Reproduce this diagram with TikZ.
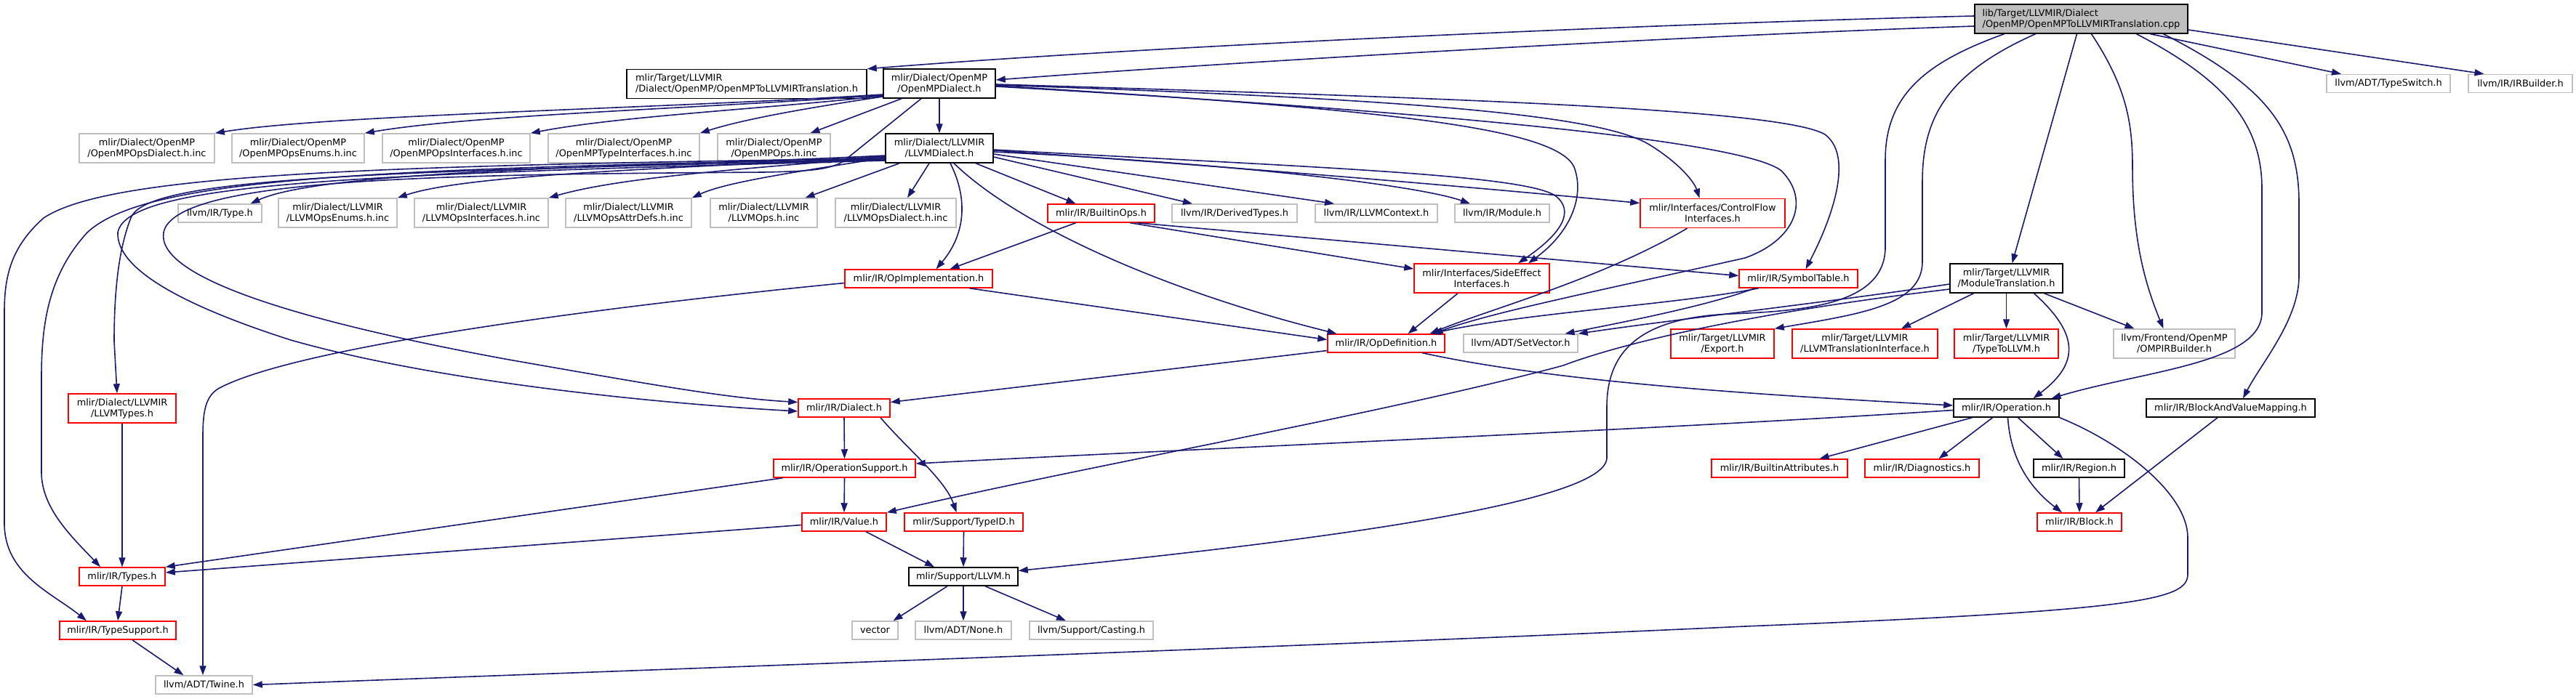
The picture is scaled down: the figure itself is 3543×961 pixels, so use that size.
\documentclass[tikz,border=0pt]{standalone}
\usepackage{fontspec}
\setmainfont{DejaVu Sans}
\usetikzlibrary{arrows.meta}
\definecolor{edgeblue}{HTML}{191970}
\definecolor{boxgray}{HTML}{BFBFBF}
\tikzset{
  nb/.style={line width=1.5pt, inner sep=0pt, align=center, font=\fontsize{12.9pt}{15pt}\selectfont, minimum height=25pt},
  two/.style={minimum height=40pt},
  blackbox/.style={nb, draw=black},
  graybox/.style={nb, draw=boxgray},
  redbox/.style={nb, draw=red},
  mainbox/.style={nb, draw=black, fill=boxgray},
  edge/.style={draw=edgeblue, line width=1.6pt, -{Triangle[length=13pt,width=9pt]}}
}
\begin{document}
\begin{tikzpicture}[x=1pt,y=-1pt]
\useasboundingbox (0,0) rectangle (3543,961);
% ---------- nodes ----------
\node[mainbox,two,align=left,minimum width=293pt] (M) at (2862.5,26) {lib/Target/LLVMIR/Dialect\\/OpenMP/OpenMPToLLVMIRTranslation.cpp};
\node[blackbox,two,align=left,minimum width=330pt] (T) at (1027,115.5) {mlir/Target/LLVMIR\\/Dialect/OpenMP/OpenMPToLLVMIRTranslation.h};
\node[blackbox,two,minimum width=154pt] (OD) at (1292,115) {mlir/Dialect/OpenMP\\/OpenMPDialect.h};
\node[graybox,minimum width=170pt] (TypeSwitch) at (3285,115) {llvm/ADT/TypeSwitch.h};
\node[graybox,minimum width=143pt] (IRBuilder) at (3466.5,115) {llvm/IR/IRBuilder.h};
% row 2
\node[graybox,two,minimum width=186pt] (OMPdia) at (202,204) {mlir/Dialect/OpenMP\\/OpenMPOpsDialect.h.inc};
\node[graybox,two,minimum width=182pt] (OMPenum) at (410,204) {mlir/Dialect/OpenMP\\/OpenMPOpsEnums.h.inc};
\node[graybox,two,minimum width=203pt] (OMPintf) at (627.5,204) {mlir/Dialect/OpenMP\\/OpenMPOpsInterfaces.h.inc};
\node[graybox,two,minimum width=208pt] (OMPtintf) at (858,204) {mlir/Dialect/OpenMP\\/OpenMPTypeInterfaces.h.inc};
\node[graybox,two,minimum width=155pt] (OMPops) at (1064.5,204) {mlir/Dialect/OpenMP\\/OpenMPOps.h.inc};
\node[blackbox,two,minimum width=148pt] (LD) at (1292,204) {mlir/Dialect/LLVMIR\\/LLVMDialect.h};
% row 3
\node[graybox,minimum width=115pt] (TypeH) at (302.5,293.5) {llvm/IR/Type.h};
\node[graybox,two,minimum width=163pt] (LEnums) at (464.5,293) {mlir/Dialect/LLVMIR\\/LLVMOpsEnums.h.inc};
\node[graybox,two,minimum width=184pt] (LIntf) at (662,293) {mlir/Dialect/LLVMIR\\/LLVMOpsInterfaces.h.inc};
\node[graybox,two,minimum width=173pt] (LAttr) at (864.5,293) {mlir/Dialect/LLVMIR\\/LLVMOpsAttrDefs.h.inc};
\node[graybox,two,minimum width=147pt] (LOps) at (1050.5,293) {mlir/Dialect/LLVMIR\\/LLVMOps.h.inc};
\node[graybox,two,minimum width=166pt] (LDia) at (1232,293) {mlir/Dialect/LLVMIR\\/LLVMOpsDialect.h.inc};
\node[redbox,minimum width=147pt] (BuiltinOps) at (1514.5,293.5) {mlir/IR/BuiltinOps.h};
\node[graybox,minimum width=172pt] (DerivedTypes) at (1698,293.5) {llvm/IR/DerivedTypes.h};
\node[graybox,minimum width=168pt] (LLVMContext) at (1893,293.5) {llvm/IR/LLVMContext.h};
\node[graybox,minimum width=130pt] (Module) at (2066,293.5) {llvm/IR/Module.h};
\node[redbox,two,minimum width=199pt] (CF) at (2355.5,293.5) {mlir/Interfaces/ControlFlow\\Interfaces.h};
% row 4
\node[redbox,minimum width=203pt] (OpImpl) at (1263.5,383.5) {mlir/IR/OpImplementation.h};
\node[redbox,two,minimum width=186pt] (SideEffect) at (2038,383) {mlir/Interfaces/SideEffect\\Interfaces.h};
\node[redbox,minimum width=163pt] (SymbolTable) at (2473.5,383.5) {mlir/IR/SymbolTable.h};
\node[blackbox,two,minimum width=155pt] (MT) at (2759.5,383) {mlir/Target/LLVMIR\\/ModuleTranslation.h};
% row 5
\node[redbox,minimum width=161pt] (OpDef) at (1906.5,472.5) {mlir/IR/OpDefinition.h};
\node[graybox,minimum width=157pt] (SetVector) at (2091.5,472.5) {llvm/ADT/SetVector.h};
\node[redbox,two,minimum width=142pt] (Export) at (2369,473) {mlir/Target/LLVMIR\\/Export.h};
\node[redbox,two,minimum width=200pt] (LTI) at (2565,473) {mlir/Target/LLVMIR\\/LLVMTranslationInterface.h};
\node[redbox,two,minimum width=143pt] (TypeToLLVM) at (2759.5,473) {mlir/Target/LLVMIR\\/TypeToLLVM.h};
\node[graybox,two,minimum width=167pt] (OMPIR) at (2990.5,473) {llvm/Frontend/OpenMP\\/OMPIRBuilder.h};
% row 6
\node[redbox,two,minimum width=148pt] (LLVMTypes) at (168,562) {mlir/Dialect/LLVMIR\\/LLVMTypes.h};
\node[redbox,minimum width=126pt] (Dialect) at (1161,561.5) {mlir/IR/Dialect.h};
\node[blackbox,minimum width=145pt] (Operation) at (2759.5,561.5) {mlir/IR/Operation.h};
\node[blackbox,minimum width=232pt] (BVM) at (3068,561.5) {mlir/IR/BlockAndValueMapping.h};
% row 7
\node[redbox,minimum width=195pt] (OpSupport) at (1161.5,644.5) {mlir/IR/OperationSupport.h};
\node[redbox,minimum width=187pt] (BuiltinAttr) at (2447.5,644.5) {mlir/IR/BuiltinAttributes.h};
\node[redbox,minimum width=157pt] (Diagnostics) at (2643.5,644.5) {mlir/IR/Diagnostics.h};
\node[blackbox,minimum width=125pt] (Region) at (2859.5,644.5) {mlir/IR/Region.h};
% row 8
\node[redbox,minimum width=116pt] (Value) at (1161,718.5) {mlir/IR/Value.h};
\node[redbox,minimum width=163pt] (TypeID) at (1325.5,718.5) {mlir/Support/TypeID.h};
\node[redbox,minimum width=116pt] (Block) at (2860,718.5) {mlir/IR/Block.h};
% row 9
\node[redbox,minimum width=118pt] (Types) at (168,793.5) {mlir/IR/Types.h};
\node[blackbox,minimum width=150pt] (LLVMh) at (1325,793.5) {mlir/Support/LLVM.h};
% row 10
\node[redbox,minimum width=160pt] (TypeSupport) at (162,867.5) {mlir/IR/TypeSupport.h};
\node[graybox,minimum width=63pt] (vector) at (1203.5,867.5) {vector};
\node[graybox,minimum width=132pt] (None) at (1325,867.5) {llvm/ADT/None.h};
\node[graybox,minimum width=170pt] (Casting) at (1501,867.5) {llvm/Support/Casting.h};
% row 11
\node[graybox,minimum width=133pt] (Twine) at (280.5,942.5) {llvm/ADT/Twine.h};
% ---------- edges ----------
% from main file
\draw[edge] ([yshift=4pt]M.west) .. controls (2300,32) and (1600,62) .. (T.north east);
\draw[edge] ([yshift=-10pt]M.west) .. controls (2300,50) and (1700,85) .. ([yshift=5pt]OD.east);
\draw[edge] ([xshift=95pt]M.south) -- ([xshift=-65pt]TypeSwitch.north);
\draw[edge] ([yshift=-15pt]M.east) -- ([xshift=-50pt]IRBuilder.north);
\draw[edge] ([xshift=-6pt]M.south) -- ([xshift=8pt]MT.north);
\draw[edge] ([xshift=14pt]M.south) .. controls (2925,120) and (2933,170) .. (2933,230) .. controls (2933,330) and (2950,390) .. ([xshift=-15pt]OMPIR.north);
\draw[edge] ([xshift=76pt]M.south) .. controls (3060,110) and (3111,170) .. (3111,260) -- (3111,430) .. controls (3111,500) and (2950,510) .. ([xshift=62pt]Operation.north);
\draw[edge] ([xshift=113pt]M.south) .. controls (3120,120) and (3162,180) .. (3162,280) -- (3162,380) .. controls (3162,440) and (3110,500) .. ([xshift=17pt]BVM.north);
\draw[edge] ([xshift=-106pt]M.south) .. controls (2650,85) and (2593,130) .. (2593,220) -- (2593,340) .. controls (2593,420) and (2480,428) .. (2380,432) .. controls (2260,437) and (2210,480) .. (2210,560) -- (2210,630) .. controls (2210,700) and (1700,755) .. ([yshift=8pt]LLVMh.east);
\draw[edge] ([xshift=-63pt]M.south) .. controls (2680,100) and (2644,160) .. (2644,250) -- (2644,360) .. controls (2644,420) and (2560,432) .. (Export.north east);
% from OpenMPDialect.h
\draw[edge] ([yshift=-15pt]OD.west) .. controls (900,150) and (450,158) .. (OMPdia.north east);
\draw[edge] ([yshift=-16pt]OD.west) .. controls (950,150) and (650,158) .. (OMPenum.north east);
\draw[edge] ([yshift=-17pt]OD.west) .. controls (1050,150) and (850,160) .. (OMPintf.north east);
\draw[edge] ([yshift=-18pt]OD.west) .. controls (1100,150) and (1020,165) .. (OMPtintf.north east);
\draw[edge] ([xshift=-52pt]OD.south) -- ([xshift=50pt]OMPops.north);
\draw[edge] (OD.south) -- (LD.north);
\draw[edge] ([xshift=-25pt]OD.south) -- (1160,222) .. controls (1140,235) and (1100,236) .. (1050,237) .. controls (600,240) and (240,245) .. (225,320) .. controls (215,380) and (400,440) .. (700,495) .. controls (900,530) and (1000,548) .. ([yshift=8pt]Dialect.west);
\draw[edge] ([yshift=-2pt]OD.east) .. controls (1900,135) and (2200,155) .. (2270,200) .. controls (2310,225) and (2330,250) .. ([xshift=-18pt]CF.north);
\draw[edge] ([yshift=-3pt]OD.east) .. controls (1900,150) and (2140,175) .. (2165,230) .. controls (2180,270) and (2160,320) .. ([xshift=64pt]SideEffect.north);
\draw[edge] ([yshift=-1pt]OD.east) .. controls (2000,135) and (2450,150) .. (2510,185) .. controls (2550,215) and (2520,300) .. ([xshift=10pt]SymbolTable.north);
\draw[edge] ([yshift=-4pt]OD.east) .. controls (2000,155) and (2400,195) .. (2450,235) .. controls (2490,275) and (2470,330) .. (2400,355) .. controls (2200,400) and (2050,430) .. ([xshift=65pt]OpDef.north);
% from LLVMDialect.h
\draw[edge] ([yshift=-10pt]LD.west) .. controls (900,230) and (450,232) .. ([xshift=42pt]TypeH.north);
\draw[edge] ([yshift=-11pt]LD.west) .. controls (950,232) and (650,238) .. (LEnums.north east);
\draw[edge] ([yshift=-12pt]LD.west) .. controls (1000,234) and (850,245) .. (LIntf.north east);
\draw[edge] ([yshift=-13pt]LD.west) .. controls (1100,236) and (1000,250) .. (LAttr.north east);
\draw[edge] ([xshift=-55pt]LD.south) -- ([xshift=57pt]LOps.north);
\draw[edge] ([xshift=-14pt]LD.south) -- ([xshift=16pt]LDia.north);
\draw[edge] ([xshift=50pt]LD.south) -- ([xshift=-35pt]BuiltinOps.north);
\draw[edge] ([yshift=-12pt]LD.east) -- ([xshift=-58pt]DerivedTypes.north);
\draw[edge] ([yshift=-8pt]LD.east) -- ([xshift=-58pt]LLVMContext.north);
\draw[edge] ([yshift=-5pt]LD.east) .. controls (1700,225) and (1950,255) .. ([xshift=-44pt]Module.north);
\draw[edge] ([yshift=-3pt]LD.east) .. controls (1700,230) and (2000,255) .. ([yshift=14pt]CF.west);
\draw[edge] ([yshift=-2pt]LD.east) .. controls (1800,230) and (2100,240) .. (2140,270) .. controls (2165,290) and (2150,320) .. ([xshift=50pt]SideEffect.north);
\draw[edge] ([xshift=15pt]LD.south) .. controls (1330,270) and (1330,320) .. ([xshift=24pt]OpImpl.north);
\draw[edge] ([xshift=20pt]LD.south) .. controls (1400,310) and (1600,400) .. ([xshift=-68pt]OpDef.north);
\draw[edge] ([yshift=-14pt]LD.west) .. controls (500,228) and (150,240) .. (60,300) .. controls (15,340) and (6,380) .. (6,430) -- (6,720) .. controls (6,790) and (70,815) .. ([xshift=-43pt]TypeSupport.north);
\draw[edge] ([yshift=-15pt]LD.west) .. controls (500,232) and (200,245) .. (120,320) .. controls (65,380) and (57,450) .. (57,520) -- (57,650) .. controls (57,700) and (100,740) .. ([xshift=-30pt]Types.north);
\draw[edge] ([yshift=-16pt]LD.west) .. controls (500,236) and (200,245) .. (180,300) .. controls (160,350) and (157,420) .. (157,470) -- ([xshift=-7pt]LLVMTypes.north);
\draw[edge] ([yshift=-17pt]LD.west) .. controls (500,240) and (175,250) .. (162,320) .. controls (160,370) and (250,420) .. (400,468) .. controls (600,525) and (900,555) .. ([yshift=-4.5pt]Dialect.west);
% middle
\draw[edge] ([xshift=-35pt]BuiltinOps.south) -- ([xshift=43pt]OpImpl.north);
\draw[edge] ([xshift=40pt]BuiltinOps.south) -- ([yshift=13pt]SideEffect.west);
\draw[edge] ([xshift=50pt]BuiltinOps.south) -- ([yshift=4pt]SymbolTable.west);
\draw[edge] ([xshift=-35pt]CF.south) .. controls (2200,385) and (2050,425) .. ([xshift=60pt]OpDef.north);
\draw[edge] ([xshift=-55pt]SymbolTable.south) .. controls (2300,420) and (2100,430) .. ([xshift=62pt]OpDef.north);
\draw[edge] ([xshift=-60pt]SymbolTable.south) .. controls (2350,420) and (2250,440) .. ([xshift=61pt]SetVector.north);
\draw[edge] ([xshift=-33pt]SideEffect.south) -- ([xshift=30pt]OpDef.north);
\draw[edge] ([xshift=70pt]OpImpl.south) -- ([yshift=5pt]OpDef.west);
\draw[edge] ([yshift=-6pt]OpImpl.west) .. controls (800,425) and (400,480) .. (300,535) .. controls (285,545) and (279,560) .. (279,600) -- ([xshift=-1.5pt]Twine.north);
\draw[edge] ([yshift=-10pt]OpDef.west) -- ([yshift=8pt]Dialect.east);
\draw[edge] ([xshift=50pt]OpDef.south) .. controls (2150,528) and (2450,545) .. ([yshift=3.5pt]Operation.west);
% ModuleTranslation.h
\draw[edge] ([xshift=-45pt]MT.south) -- ([xshift=50pt]LTI.north);
\draw[edge] (MT.south) -- (TypeToLLVM.north);
\draw[edge] ([xshift=52pt]MT.south) -- ([xshift=-55pt]OMPIR.north);
\draw[edge] ([xshift=38pt]MT.south) .. controls (2860,460) and (2860,500) .. ([xshift=37pt]Operation.north);
\draw[edge] ([yshift=-8pt]MT.west) .. controls (2500,418) and (2300,440) .. (SetVector.north east);
\draw[edge] ([yshift=-15pt]MT.west) .. controls (2450,425) and (2250,465) .. (2150,503) .. controls (1900,570) and (1500,640) .. (Value.north east);
% lower left
\draw[edge] (Dialect.south) -- (OpSupport.north);
\draw[edge] ([xshift=50pt]Dialect.south) .. controls (1250,620) and (1300,660) .. ([xshift=-10pt]TypeID.north);
\draw[edge] (OpSupport.south) -- (Value.north);
\draw[edge] ([xshift=-85pt]OpSupport.south) -- (Types.north east);
\draw[edge] ([yshift=-4pt]Value.west) -- ([yshift=5.5pt]Types.east);
\draw[edge] ([xshift=30pt]Value.south) -- ([xshift=-40pt]LLVMh.north);
\draw[edge] (TypeID.south) -- (LLVMh.north);
\draw[edge] ([xshift=-22pt]LLVMh.south) -- ([xshift=25pt]vector.north);
\draw[edge] (LLVMh.south) -- (None.north);
\draw[edge] ([xshift=30pt]LLVMh.south) -- ([xshift=-35pt]Casting.north);
\draw[edge] (Types.south) -- (TypeSupport.north);
\draw[edge] (LLVMTypes.south) -- (Types.north);
\draw[edge] ([xshift=20pt]TypeSupport.south) -- ([xshift=-28pt]Twine.north);
% Operation.h
\draw[edge] (Operation.south east) .. controls (2920,610) and (3009,680) .. (3009,740) -- (3009,790) .. controls (3009,825) and (2950,840) .. (2400,862) .. controls (1800,890) and (800,925) .. (Twine.east);
\draw[edge] ([yshift=-3pt]Operation.west) .. controls (2300,590) and (1700,615) .. ([yshift=6.5pt]OpSupport.east);
\draw[edge] ([xshift=-47pt]Operation.south) -- ([xshift=55pt]BuiltinAttr.north);
\draw[edge] ([xshift=-19pt]Operation.south) -- ([xshift=23pt]Diagnostics.north);
\draw[edge] ([xshift=16pt]Operation.south) -- ([xshift=-22pt]Region.north);
\draw[edge] ([xshift=2pt]Operation.south) .. controls (2765,630) and (2790,670) .. ([xshift=-24pt]Block.north);
\draw[edge] (Region.south) -- (Block.north);
\draw[edge] ([xshift=-18pt]BVM.south) -- ([xshift=22pt]Block.north);
\end{tikzpicture}
\end{document}
